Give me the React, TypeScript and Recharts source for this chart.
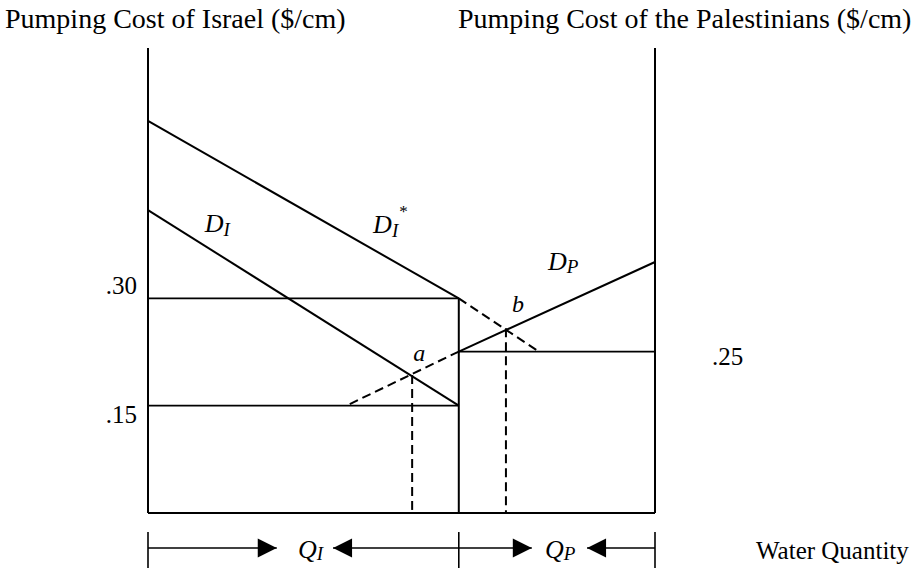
import React from "react";
import { ComposedChart, Line, XAxis, YAxis, ReferenceLine, ReferenceDot, Label } from "recharts";

const SERIF = '"Liberation Serif", "Times New Roman", serif';
const INK = "#000";

// quantity runs from Israel's axis (0) to the Palestinians' axis (100)
const qSplit = 61.3;
const qRight = 100;

// cost axes: Israel on the left, Palestinians on the right (own scale)
const israelTicks = [0.15, 0.3];
const palTicks = [0.25];

const israelDemandStar = [{ q: 0, cost: 0.548 }, { q: qSplit, cost: 0.3 }];
const israelDemandStarDashed = [{ q: qSplit, cost: 0.3 }, { q: 76.9, cost: 0.2265 }];
const israelDemand = [{ q: 0, cost: 0.4235 }, { q: qSplit, cost: 0.15 }];
const palDemand = [{ q: qSplit, cost: 0.25 }, { q: qRight, cost: 0.3886 }];
const palDemandDashed = [{ q: 39.8, cost: 0.1687 }, { q: qSplit, cost: 0.25 }];

const pointA = { q: 52.1, cost: 0.193 };
const pointB = { q: 70.6, cost: 0.286 };

// bottom row: quantity brackets (Israel cost units, below zero)
const arrowRow = -0.049;
const bracketTop = -0.0266;
const bracketBottom = -0.077;
const bracketStops = [0, qSplit, qRight];
const arrows = [
  { from: 0, tip: 25.4, dir: "right" },
  { from: qSplit, tip: 36.5, dir: "left" },
  { from: qSplit, tip: 75.7, dir: "right" },
  { from: qRight, tip: 86.6, dir: "left" },
];

const curveLabels = [
  { id: "DI", main: "D", sub: "I", q: 11.2, cost: 0.393, axis: "israel", size: 26, subDy: 4 },
  { id: "DIstar", main: "D", sub: "I", sup: "*", q: 44.4, cost: 0.391, axis: "israel", size: 26, subDy: 4 },
  { id: "DP", main: "D", sub: "P", q: 78.9, cost: 0.376, axis: "pal", size: 26, subDy: 3 },
  { id: "a", main: "a", q: 52.3, cost: 0.2125, axis: "israel", size: 24 },
  { id: "b", main: "b", q: 71.8, cost: 0.311, axis: "pal", size: 24 },
  { id: "QI", main: "Q", sub: "I", q: 29.6, cost: -0.063, axis: "israel", size: 26, subDy: 2 },
  { id: "QP", main: "Q", sub: "P", q: 78.3, cost: -0.063, axis: "israel", size: 26, subDy: 2 },
];

const tickNudge: Record<string, number> = { "0.3": -13, "0.15": 9, "0.25": 5 };
const fmtCost = (v: number) => v.toFixed(2).replace(/^0/, "");

const CostTick = (props: any) => {
  const { x, y, payload, textAnchor } = props;
  return (
    <text
      x={x}
      y={y + (tickNudge[String(payload.value)] ?? 0)}
      textAnchor={textAnchor}
      dominantBaseline="central"
      fontFamily={SERIF}
      fontSize={25}
      fill={INK}
    >
      {fmtCost(payload.value)}
    </text>
  );
};

const MathLabel = ({ cx, cy, label }: any) => (
  <text x={cx} y={cy} fontFamily={SERIF} fontStyle="italic" fontSize={label.size} fill={INK}>
    {label.main}
    {label.sub && (
      <tspan fontSize={19} dy={label.subDy}>
        {label.sub}
      </tspan>
    )}
    {label.sup && (
      <tspan fontSize={17} fontStyle="normal" dx={1} dy={-20}>
        {label.sup}
      </tspan>
    )}
  </text>
);

const Arrowhead = ({ cx, cy, dir }: any) => {
  const s = dir === "right" ? -1 : 1;
  const pts = `${cx},${cy} ${cx + s * 19},${cy - 9.5} ${cx + s * 19},${cy + 9.5}`;
  return <polygon points={pts} fill={INK} />;
};

const titleText = (text: string, dx: (vb: any) => number) => (props: any) => {
  const vb = props.viewBox;
  return (
    <text x={dx(vb)} y={vb.y - 20} fontFamily={SERIF} fontSize={28} fill={INK}>
      {text}
    </text>
  );
};

const waterLabel = (props: any) => {
  const vb = props.viewBox;
  return (
    <text x={vb.x + vb.width + 101} y={vb.y + 46} fontFamily={SERIF} fontSize={25} fill={INK}>
      Water Quantity
    </text>
  );
};

const lineProps = { stroke: INK, strokeWidth: 2, dot: false, activeDot: false, isAnimationActive: false } as const;
const dash = "9 5";

export default function App() {
  return (
    <div style={{ position: "absolute", left: 0, top: 0, background: "#fff" }}>
      <ComposedChart width={924} height={568} margin={{ top: 48, right: 209, bottom: 35, left: 108 }}>
        <XAxis
          dataKey="q"
          type="number"
          domain={[0, qRight]}
          tick={false}
          tickLine={false}
          height={20}
          axisLine={{ stroke: INK, strokeWidth: 2 }}
          label={<Label content={waterLabel} />}
        />
        <YAxis
          yAxisId="israel"
          orientation="left"
          type="number"
          width={40}
          domain={[0, 0.65]}
          ticks={israelTicks}
          interval={0}
          tickLine={false}
          tickSize={0}
          tickMargin={11}
          tick={<CostTick />}
          axisLine={{ stroke: INK, strokeWidth: 2 }}
          label={<Label content={titleText("Pumping Cost of Israel ($/cm)", (vb) => vb.x + vb.width - 143)} />}
        />
        <YAxis
          yAxisId="pal"
          orientation="right"
          type="number"
          width={60}
          domain={[0, 0.72]}
          ticks={palTicks}
          interval={0}
          tickLine={false}
          tickSize={0}
          tickMargin={57}
          tick={<CostTick />}
          axisLine={{ stroke: INK, strokeWidth: 2 }}
          label={<Label content={titleText("Pumping Cost of the Palestinians ($/cm)", (vb) => vb.x - 197)} />}
        />

        {/* cost levels */}
        {israelTicks.map((c) => (
          <ReferenceLine
            key={`hi-${c}`}
            yAxisId="israel"
            segment={[{ x: 0, y: c }, { x: qSplit, y: c }]}
            stroke={INK}
            strokeWidth={1.8}
          />
        ))}
        {palTicks.map((c) => (
          <ReferenceLine
            key={`hp-${c}`}
            yAxisId="pal"
            segment={[{ x: qSplit, y: c }, { x: qRight, y: c }]}
            stroke={INK}
            strokeWidth={1.8}
          />
        ))}
        <ReferenceLine
          yAxisId="israel"
          segment={[{ x: qSplit, y: 0 }, { x: qSplit, y: 0.3 }]}
          stroke={INK}
          strokeWidth={2}
        />

        {/* demand curves */}
        <Line data={israelDemandStar} dataKey="cost" yAxisId="israel" {...lineProps} />
        <Line data={israelDemandStarDashed} dataKey="cost" yAxisId="israel" {...lineProps} strokeDasharray={dash} />
        <Line data={israelDemand} dataKey="cost" yAxisId="israel" {...lineProps} />
        <Line data={palDemand} dataKey="cost" yAxisId="pal" {...lineProps} />
        <Line data={palDemandDashed} dataKey="cost" yAxisId="pal" {...lineProps} strokeDasharray={dash} />

        {/* equilibrium drop lines */}
        <ReferenceLine
          yAxisId="israel"
          segment={[{ x: pointA.q, y: pointA.cost }, { x: pointA.q, y: 0 }]}
          stroke={INK}
          strokeWidth={2}
          strokeDasharray={dash}
        />
        <ReferenceLine
          yAxisId="pal"
          segment={[{ x: pointB.q, y: pointB.cost }, { x: pointB.q, y: 0 }]}
          stroke={INK}
          strokeWidth={2}
          strokeDasharray={dash}
        />

        {/* quantity brackets under the axis */}
        {bracketStops.map((q) => (
          <ReferenceLine
            key={`bt-${q}`}
            yAxisId="israel"
            ifOverflow="visible"
            segment={[{ x: q, y: bracketTop }, { x: q, y: bracketBottom }]}
            stroke={INK}
            strokeWidth={1.6}
          />
        ))}
        {arrows.map((a, i) => (
          <ReferenceLine
            key={`al-${i}`}
            yAxisId="israel"
            ifOverflow="visible"
            segment={[{ x: a.from, y: arrowRow }, { x: a.tip, y: arrowRow }]}
            stroke={INK}
            strokeWidth={1.6}
          />
        ))}
        {arrows.map((a, i) => (
          <ReferenceDot
            key={`ah-${i}`}
            yAxisId="israel"
            x={a.tip}
            y={arrowRow}
            ifOverflow="visible"
            shape={(p: any) => <Arrowhead cx={p.cx} cy={p.cy} dir={a.dir} />}
          />
        ))}

        {curveLabels.map((l) => (
          <ReferenceDot
            key={l.id}
            yAxisId={l.axis}
            x={l.q}
            y={l.cost}
            ifOverflow="visible"
            shape={(p: any) => <MathLabel cx={p.cx} cy={p.cy} label={l} />}
          />
        ))}
      </ComposedChart>
    </div>
  );
}
